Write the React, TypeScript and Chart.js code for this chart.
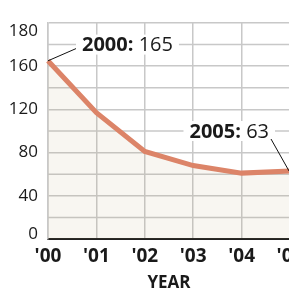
import React, { useEffect, useRef } from "react";
import { Chart, registerables } from "chart.js";

Chart.register(...registerables);

const years = ["'00", "'01", "'02", "'03", "'04", "'05"];
const values = [165, 117, 81, 68, 61, 63];
const yTickValues = [0, 40, 80, 120, 160, 200];
const yTickLabels = ["0", "40", "80", "120", "160", "180"];
const startLabel = { year: "2000:", value: "165" };
const endLabel = { year: "2005:", value: "63" };

const FONT = "'Open Sans', 'Noto Sans', sans-serif";

const annotationPlugin = {
  id: "annotations",
  afterDatasetsDraw(chart: any) {
    const { ctx, scales } = chart;
    const xs = scales.x;
    const ys = scales.y;
    ctx.save();
    ctx.textBaseline = "middle";

    const drawLabel = (
      anchorX: number,
      anchorY: number,
      bold: string,
      reg: string,
      alignRight: boolean
    ) => {
      ctx.font = `bold 20px ${FONT}`;
      const wb = ctx.measureText(bold + " ").width;
      ctx.font = `20px ${FONT}`;
      const wr = ctx.measureText(reg).width;
      const total = wb + wr;
      const left = alignRight ? anchorX - total : anchorX;
      ctx.fillStyle = "#ffffff";
      ctx.fillRect(left - 6, anchorY - 10, total + 12, 20);
      ctx.fillStyle = "#1a1a1a";
      ctx.font = `bold 20px ${FONT}`;
      ctx.fillText(bold, left, anchorY + 1);
      ctx.font = `20px ${FONT}`;
      ctx.fillText(reg, left + wb, anchorY + 1);
    };

    // 2000 label
    const p0x = xs.getPixelForValue(0);
    const p0y = ys.getPixelForValue(values[0]);
    const l0y = ys.getPixelForValue(180);
    drawLabel(p0x + 34, l0y, startLabel.year, startLabel.value, false);
    ctx.strokeStyle = "#111";
    ctx.lineWidth = 1;
    ctx.beginPath();
    ctx.moveTo(p0x, p0y);
    ctx.lineTo(p0x + 28, l0y + 4);
    ctx.stroke();

    // 2005 label
    const p5x = xs.getPixelForValue(5);
    const p5y = ys.getPixelForValue(values[5]);
    const l5y = ys.getPixelForValue(100);
    drawLabel(p5x - 21, l5y, endLabel.year, endLabel.value, true);
    ctx.beginPath();
    ctx.moveTo(p5x - 1, p5y);
    ctx.lineTo(p5x - 19, l5y + 8);
    ctx.stroke();

    ctx.restore();
  },
};

const yLabelPlugin = {
  id: "yLabels",
  afterDraw(chart: any) {
    const { ctx, scales } = chart;
    const ys = scales.y;
    ctx.save();
    ctx.font = `17px ${FONT}`;
    ctx.fillStyle = "#1a1a1a";
    ctx.textAlign = "right";
    ctx.textBaseline = "middle";
    yTickValues.forEach((v, i) => {
      let y = ys.getPixelForValue(v);
      y = Math.max(ys.top + 8, Math.min(ys.bottom - 5, y));
      ctx.fillText(yTickLabels[i], ys.right - 10, y);
    });
    ctx.restore();
  },
};

export default function App() {
  const ref = useRef<HTMLCanvasElement>(null);

  useEffect(() => {
    document.body.style.margin = "0";
    const chart = new Chart(ref.current!, {
      type: "line",
      data: {
        labels: years,
        datasets: [
          {
            data: values,
            borderColor: "#dc8468",
            borderWidth: 5,
            pointRadius: 0,
            fill: "origin",
            backgroundColor: "rgba(175,155,95,0.09)",
            tension: 0,
            clip: false as any,
          },
        ],
      },
      options: {
        animation: false,
        responsive: false,
        devicePixelRatio: 1,
        layout: { padding: { top: 23, right: 20, left: 0, bottom: 0 } },
        plugins: {
          legend: { display: false },
          tooltip: { enabled: false },
        },
        scales: {
          x: {
            type: "category",
            offset: false,
            grid: { color: "#c8c8c8", lineWidth: 1.5, drawTicks: false },
            border: { color: "#222", width: 2 },
            ticks: {
              color: "#1a1a1a",
              font: { family: FONT, size: 19, weight: "bold" },
              padding: 6,
              maxRotation: 0,
              autoSkip: false,
            },
            title: {
              display: true,
              text: "YEAR",
              color: "#1a1a1a",
              font: { family: FONT, size: 17, weight: "bold" },
              padding: { top: 0, bottom: -2 },
            },
            afterFit: (s: any) => {
              s.height = 52;
            },
          },
          y: {
            min: 0,
            max: 200,
            afterBuildTicks: (s: any) => {
              s.ticks = yTickValues.map((v) => ({ value: v }));
            },
            grid: { color: "#c8c8c8", lineWidth: 1.5, drawTicks: false },
            border: { color: "#c8c8c8", width: 1.5 },
            ticks: { display: false },
            afterFit: (s: any) => {
              s.width = 48;
            },
          },
        },
      },
      plugins: [
        {
          id: "yGrid20",
          beforeDatasetsDraw(chart: any) {
            const { ctx, chartArea, scales } = chart;
            ctx.save();
            ctx.strokeStyle = "#c8c8c8";
            ctx.lineWidth = 1.5;
            for (let v = 20; v < 200; v += 40) {
              const y = scales.y.getPixelForValue(v);
              ctx.beginPath();
              ctx.moveTo(chartArea.left, y);
              ctx.lineTo(chartArea.right, y);
              ctx.stroke();
            }
            ctx.restore();
          },
        },
        annotationPlugin,
        yLabelPlugin,
      ],
    });
    return () => chart.destroy();
  }, []);

  return (
    <div
      style={{
        position: "absolute",
        left: 0,
        top: 0,
        width: 289,
        height: 291,
        overflow: "hidden",
        background: "#fff",
      }}
    >
      <canvas ref={ref} width={310} height={291} />
    </div>
  );
}
